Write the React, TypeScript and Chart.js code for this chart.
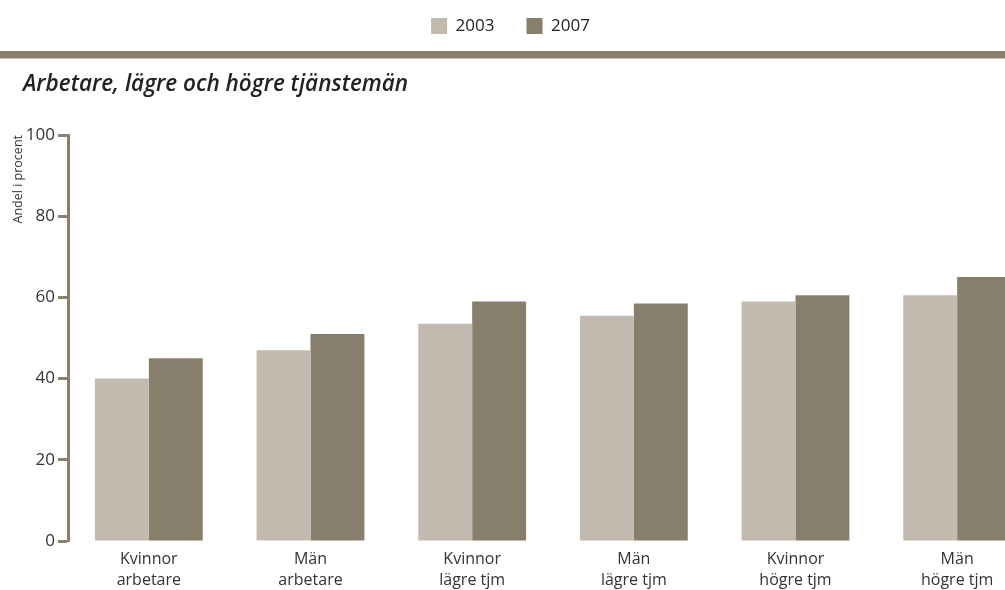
import React, { useEffect, useRef } from 'react';
import { Chart, registerables } from 'chart.js';

Chart.register(...registerables);

const categories: string[][] = [
  ['Kvinnor', 'arbetare'],
  ['Män', 'arbetare'],
  ['Kvinnor', 'lägre tjm'],
  ['Män', 'lägre tjm'],
  ['Kvinnor', 'högre tjm'],
  ['Män', 'högre tjm'],
];
const seriesNames = ['2003', '2007'];
const values2003 = [40, 47, 53.5, 55.5, 59, 60.5];
const values2007 = [45, 51, 59, 58.5, 60.5, 65];
const yMin = 0;
const yMax = 100;
const yStep = 20;
const chartTitle = 'Arbetare, lägre och högre tjänstemän';
const yAxisTitle = 'Andel i procent';

const COLOR_LIGHT = '#c2baaf';
const COLOR_DARK = '#887e6c';
const AXIS_COLOR = '#8a7f6d';
const FONT = "'Open Sans', 'Noto Sans', sans-serif";

const bandPlugin = {
  id: 'topBand',
  beforeDraw(chart: any) {
    const ctx = chart.ctx;
    ctx.save();
    ctx.fillStyle = AXIS_COLOR;
    ctx.fillRect(0, 51, chart.width, 7.5);
    ctx.restore();
  },
};

const legendShiftPlugin = {
  id: 'legendShift',
  afterLayout(chart: any) {
    const lg = chart.legend;
    if (lg) {
      lg.left -= 20;
      lg.right -= 20;
    }
  },
};

export default function App() {
  const ref = useRef<HTMLCanvasElement | null>(null);

  useEffect(() => {
    if (!ref.current) return;
    Chart.defaults.font.family = FONT;
    const chart = new Chart(ref.current, {
      type: 'bar',
      data: {
        labels: categories,
        datasets: [
          {
            label: seriesNames[0],
            data: values2003,
            backgroundColor: COLOR_LIGHT,
            borderWidth: 0,
          },
          {
            label: seriesNames[1],
            data: values2007,
            backgroundColor: COLOR_DARK,
            borderWidth: 0,
          },
        ],
      },
      options: {
        responsive: false,
        animation: false,
        layout: { padding: { left: 23, right: 0, top: -14.5, bottom: 0 } },
        datasets: {
          bar: { categoryPercentage: 0.667, barPercentage: 1 },
        },
        plugins: {
          tooltip: { enabled: false },
          legend: {
            display: true,
            position: 'top',
            align: 'center',
            weight: 3000,
            maxHeight: 48.5,
            labels: {
              boxWidth: 16,
              boxHeight: 16,
              padding: 32,
              color: '#222',
              font: { size: 17, family: FONT },
            },
          },
          title: {
            display: true,
            text: chartTitle,
            align: 'start',
            color: '#222',
            weight: 2000,
            font: { size: 22.5, style: 'italic', weight: '600', family: FONT, lineHeight: 1.2 },
            padding: { top: 37, bottom: 37 },
          },
        },
        scales: {
          x: {
            grid: { display: false, drawTicks: false },
            border: { display: false },
            ticks: {
              color: '#333',
              font: { size: 16, family: FONT, lineHeight: 1.31 },
              padding: 8,
              maxRotation: 0,
              autoSkip: false,
            },
            afterFit(scale: any) {
              scale.height = 49;
            },
          },
          y: {
            min: yMin,
            max: yMax,
            ticks: {
              stepSize: yStep,
              color: '#333',
              font: { size: 17, family: FONT },
              padding: 3,
            },
            grid: {
              display: true,
              drawOnChartArea: false,
              drawTicks: true,
              tickLength: 10,
              tickWidth: 3,
              tickColor: AXIS_COLOR,
              color: AXIS_COLOR,
            },
            border: { display: true, color: AXIS_COLOR, width: 3 },
            title: {
              display: true,
              text: yAxisTitle,
              align: 'end',
              color: '#333',
              font: { size: 12.5, family: FONT, lineHeight: 1.2 },
              padding: { top: -12.5, bottom: 0 },
            },
            afterFit(scale: any) {
              scale.width = 45;
            },
          },
        },
      },
      plugins: [bandPlugin, legendShiftPlugin],
    } as any);
    return () => chart.destroy();
  }, []);

  return (
    <div
      style={{
        position: 'fixed',
        left: 0,
        top: 0,
        width: 1005,
        height: 590,
        overflow: 'hidden',
        background: '#fff',
      }}
    >
      <canvas ref={ref} width={1038} height={590} style={{ display: 'block' }} />
    </div>
  );
}
